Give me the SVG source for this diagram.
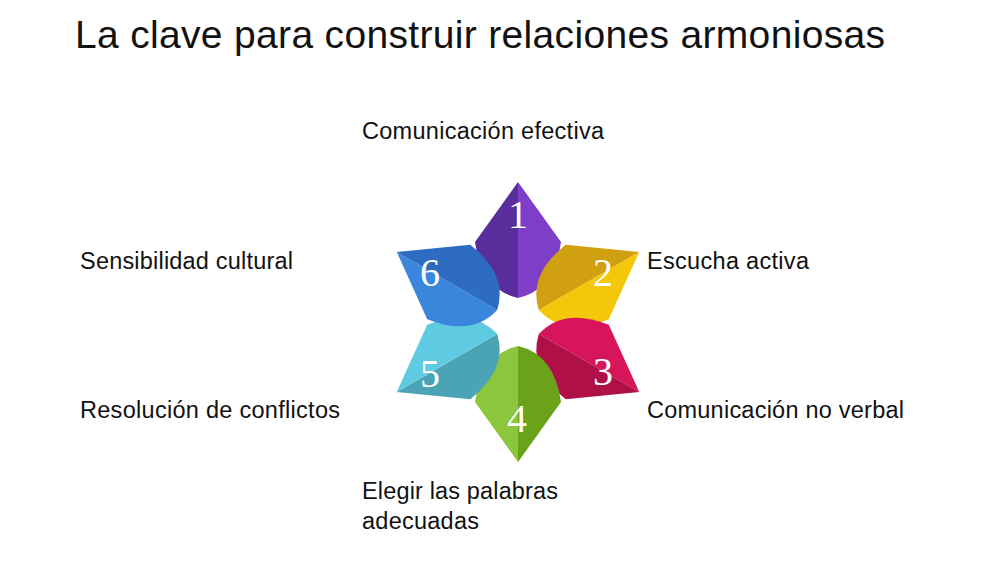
<svg xmlns="http://www.w3.org/2000/svg" width="1000" height="562" viewBox="0 0 1000 562">
<style>
text{font-family:"Liberation Sans",Arial,sans-serif;fill:#111}
.t{font-size:39px}
.l{font-size:23.5px}
.n{font-family:"Liberation Serif","Times New Roman",serif;font-size:40px;fill:#fff;text-anchor:middle}
</style>
<defs>
<path id="hl" d="M0,-140 L-43,-80 Q-36,-32 0,-24 Z"/>
<path id="hr" d="M0,-140 L43,-80 Q36,-32 0,-24 Z"/>
</defs>
<rect width="1000" height="562" fill="#fff"/>
<text class="t" x="75" y="48" textLength="810">La clave para construir relaciones armoniosas</text>
<g transform="translate(518,322)">
<g id="p1"><use href="#hl" fill="#5a2d9c"/><use href="#hr" fill="#7d3fc8"/></g>
<g id="p2" transform="rotate(60)"><use href="#hl" fill="#d0a010"/><use href="#hr" fill="#f4c70a"/></g>
<g id="p3" transform="rotate(120)"><use href="#hl" fill="#d6155a"/><use href="#hr" fill="#b01048"/></g>
<g id="p4" transform="rotate(180)"><use href="#hl" fill="#6aa31a"/><use href="#hr" fill="#8cc63c"/></g>
<g id="p5" transform="rotate(240)"><use href="#hl" fill="#4aa4b6"/><use href="#hr" fill="#5fcbe2"/></g>
<g id="p6" transform="rotate(300)"><use href="#hl" fill="#3a86dc"/><use href="#hr" fill="#2d6cc0"/></g>
</g>
<g id="nums">
<text class="n" x="518" y="228">1</text>
<text class="n" x="603" y="286">2</text>
<text class="n" x="603" y="385">3</text>
<text class="n" x="517" y="432">4</text>
<text class="n" x="430" y="387">5</text>
<text class="n" x="430" y="286">6</text>
</g>
<g id="labels">
<text class="l" x="362" y="139" textLength="242">Comunicación efectiva</text>
<text class="l" x="647" y="269" textLength="162">Escucha activa</text>
<text class="l" x="80" y="269" textLength="213">Sensibilidad cultural</text>
<text class="l" x="80" y="418" textLength="260">Resolución de conflictos</text>
<text class="l" x="647" y="418" textLength="257">Comunicación no verbal</text>
<text class="l" x="362" y="499" textLength="196">Elegir las palabras</text>
<text class="l" x="362" y="529" textLength="117">adecuadas</text>
</g>
</svg>
